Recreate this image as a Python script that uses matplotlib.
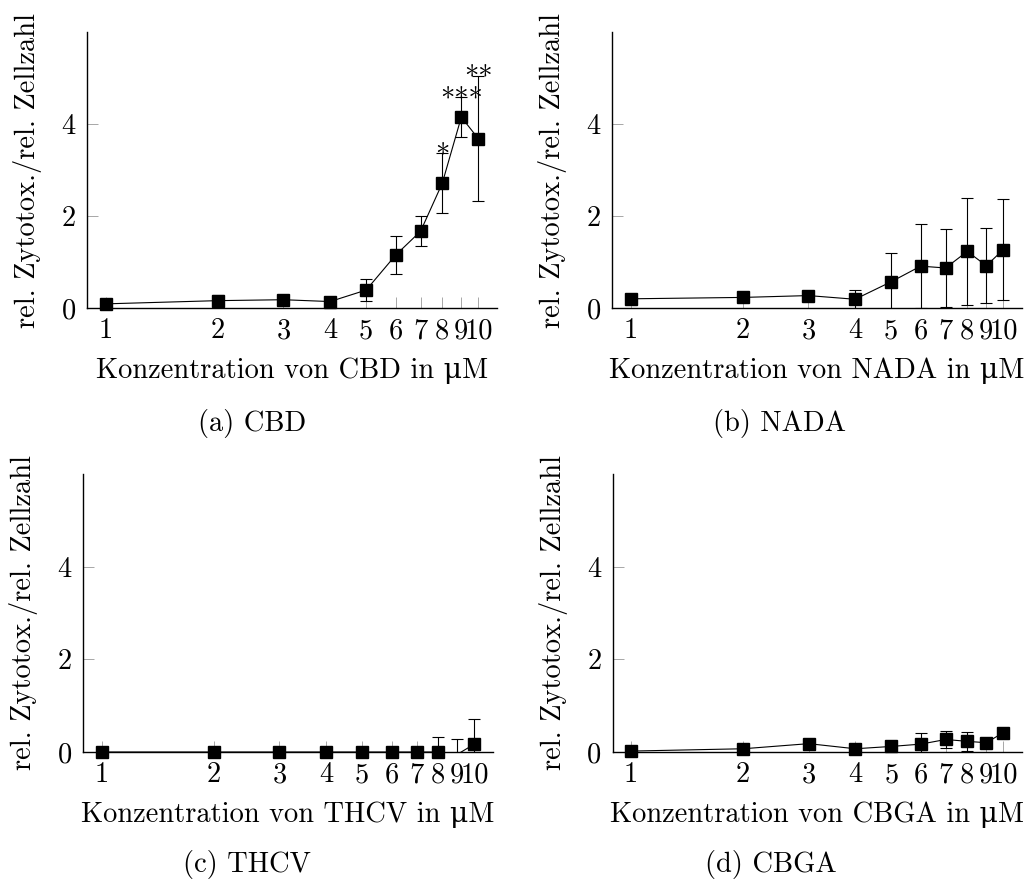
import numpy as np
import matplotlib
matplotlib.use("Agg")
import matplotlib.pyplot as plt

plt.rcParams['font.family'] = ['cmr10', 'DejaVu Serif']
plt.rcParams['axes.formatter.use_mathtext'] = True
plt.rcParams['font.size'] = 20.5

# concentrations (x) in uM
conc = [1, 2, 3, 4, 5, 6, 7, 8, 9, 10]

# rel. cytotoxicity / rel. cell count
cbd_mean = [0.09, 0.16, 0.18, 0.14, 0.39, 1.15, 1.67, 2.71, 4.15, 3.68]
cbd_err = [0.05, 0.12, 0.06, 0.04, 0.23, 0.42, 0.32, 0.65, 0.43, 1.36]

nada_mean = [0.20, 0.23, 0.27, 0.19, 0.57, 0.91, 0.87, 1.23, 0.92, 1.27]
nada_err = [0.08, 0.05, 0.05, 0.21, 0.62, 0.91, 0.84, 1.17, 0.82, 1.09]

thcv_mean = [0.0, 0.0, 0.0, 0.0, 0.0, 0.0, 0.0, 0.0, -0.05, 0.17]
thcv_err = [0.0, 0.0, 0.0, 0.0, 0.0, 0.0, 0.0, 0.33, 0.32, 0.54]

cbga_mean = [0.02, 0.07, 0.18, 0.07, 0.12, 0.17, 0.27, 0.23, 0.20, 0.42]
cbga_err = [0.02, 0.03, 0.03, 0.03, 0.03, 0.23, 0.18, 0.20, 0.03, 0.03]

# significance stars (CBD only)
cbd_stars = {8: '*', 9: '***', 10: '**'}

substances = ['CBD', 'NADA', 'THCV', 'CBGA']
captions = ['(a) CBD', '(b) NADA', '(c) THCV', '(d) CBGA']
means = [cbd_mean, nada_mean, thcv_mean, cbga_mean]
errs = [cbd_err, nada_err, thcv_err, cbga_err]
stars = [cbd_stars, {}, {}, {}]

W, H = 1031, 881
# axes boxes in pixels: left, right, top, bottom
boxes = [(87, 497, 32, 308), (612, 1022, 32, 308),
         (83, 493, 474, 752), (612.5, 1022, 474, 752)]
cap_pos = [(252, 431), (780, 431), (247, 872), (771, 872)]

fig = plt.figure(figsize=(W / 100, H / 100), dpi=100)

for i in range(4):
    l, r, t, b = boxes[i]
    ax = fig.add_axes([l / W, 1 - b / H, (r - l) / W, (b - t) / H])
    x = np.array(conc, dtype=float)
    y = np.array(means[i])
    e = np.array(errs[i])

    ax.errorbar(x, y, yerr=e, fmt='none', ecolor='black', elinewidth=0.8,
                capsize=4, capthick=0.8, zorder=2)
    ax.plot(x, y, color='black', lw=0.8, zorder=3)
    # markers only for points inside the y range
    inside = y >= 0
    ax.plot(x[inside], y[inside], ls='none', marker='s', ms=8,
            color='black', clip_on=False, zorder=4)

    for cx, s in stars[i].items():
        k = conc.index(cx)
        ax.annotate(s, (cx, means[i][k] + errs[i][k]), xytext=(0, -7),
                    textcoords='offset points', ha='center', va='baseline',
                    annotation_clip=False)

    ax.set_xscale('log')
    ax.set_xlim(10 ** -0.05, 10 ** 1.05)
    ax.set_ylim(0, 6)
    ax.set_xticks(conc)
    ax.set_xticklabels([str(c) for c in conc])
    ax.xaxis.set_minor_locator(matplotlib.ticker.NullLocator())
    ax.set_yticks([0, 2, 4])
    ax.set_yticklabels(['0', '2', '4'])
    ax.tick_params(direction='in', length=8, width=0.6, color='#999999',
                   labelcolor='black')
    ax.tick_params(axis='x', pad=7)
    ax.tick_params(axis='y', pad=8)

    for side in ['top', 'right']:
        ax.spines[side].set_visible(False)
    for side in ['left', 'bottom']:
        ax.spines[side].set_linewidth(1.0)

    ax.set_xlabel('Konzentration von ' + substances[i] + ' in \u03bcM', labelpad=10)
    ax.set_ylabel('rel. Zytotox./rel. Zellzahl', labelpad=14)

    cx, cy = cap_pos[i]
    fig.text(cx / W, 1 - cy / H, captions[i], ha='center', va='baseline')

fig.savefig('out.png', dpi=100)
